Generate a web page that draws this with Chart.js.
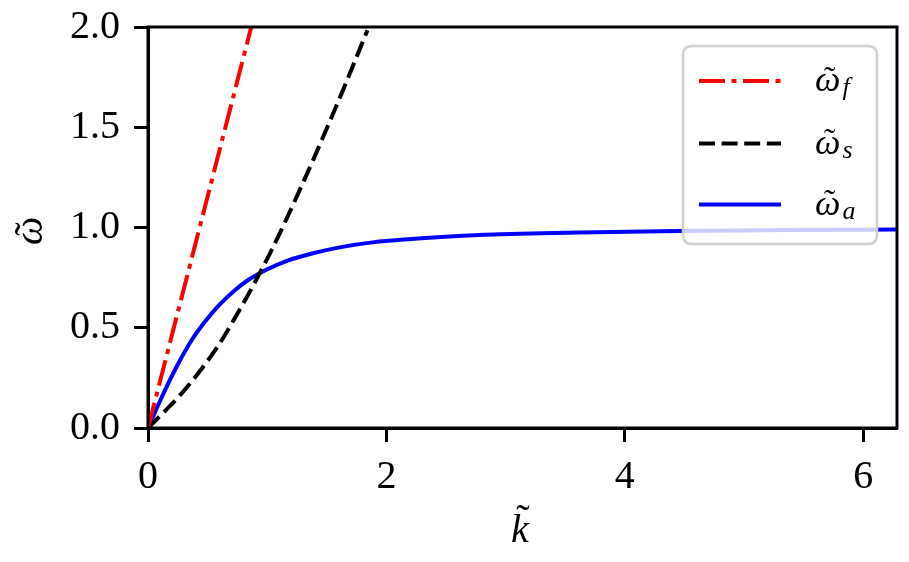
<!DOCTYPE html>
<html>
<head>
<meta charset="utf-8">
<script src="https://cdn.jsdelivr.net/npm/chart.js@4/dist/chart.umd.min.js"></script>
<style>
  html, body { margin: 0; padding: 0; background: #ffffff; }
  canvas { display: block; }
</style>
</head>
<body>
<canvas id="c" width="909" height="562"></canvas>
<script>
// ---- data ----
const xTicks = [0, 2, 4, 6];
const yTicks = [0, 0.5, 1.0, 1.5, 2.0];

const xTitle = 'k';      // drawn with a tilde: k̃
const yTitle = '\u03C9'; // drawn with a tilde: ω̃
const seriesNames = ['f', 's', 'a'];

const fastK = [0, 0.866];
const fastW = [0, 2.0];

const slowK = [0, 0.126, 0.279, 0.447, 0.592, 0.74, 0.859, 0.93, 1.018, 1.144, 1.395, 1.632, 1.841];
const slowW = [0, 0.075, 0.17, 0.293, 0.413, 0.56, 0.685, 0.765, 0.865, 1.02, 1.35, 1.68, 1.984];

const alfK = [0, 0.079, 0.146, 0.251, 0.363, 0.474, 0.600, 0.726, 0.837, 0.93, 0.977, 1.172, 1.367, 1.618, 1.897, 2.148, 2.776, 3.612, 4.449, 5.286, 6.283];
const alfW = [0, 0.106, 0.193, 0.318, 0.435, 0.527, 0.615, 0.686, 0.737, 0.769, 0.785, 0.835, 0.869, 0.902, 0.927, 0.940, 0.963, 0.975, 0.983, 0.987, 0.990];

function pts(xs, ys) { return xs.map((x, i) => ({ x: x, y: ys[i] })); }

const SERIF = "'Liberation Serif', 'DejaVu Serif', serif";
const FS = 40;

// draw a tilde centred at (cx, cy)
function tilde(ctx, cx, cy, size) {
  ctx.save();
  ctx.font = size + 'px ' + SERIF;
  ctx.textAlign = 'center';
  ctx.textBaseline = 'alphabetic';
  const m = ctx.measureText('\u02DC');
  const base = cy + (m.actualBoundingBoxAscent - m.actualBoundingBoxDescent) / 2;
  ctx.fillText('\u02DC', cx, base);
  ctx.restore();
}

const frameAndLegend = {
  id: 'frameAndLegend',
  afterDatasetsDraw(chart) {
    const ctx = chart.ctx;
    const a = chart.chartArea;
    ctx.save();
    ctx.strokeStyle = '#000';
    ctx.lineWidth = 3;
    ctx.setLineDash([]);
    ctx.strokeRect(a.left, a.top, a.right - a.left, a.bottom - a.top);

    // axis titles with tildes
    ctx.fillStyle = '#000';
    ctx.font = 'italic ' + FS + 'px ' + SERIF;
    ctx.textAlign = 'center';
    ctx.textBaseline = 'alphabetic';
    ctx.fillText(xTitle, 520, 542);
    tilde(ctx, 523, 507, 40);

    ctx.save();
    ctx.translate(42, 231);
    ctx.rotate(-Math.PI / 2);
    ctx.font = 'italic ' + FS + 'px ' + SERIF;
    ctx.textAlign = 'center';
    ctx.fillText(yTitle, 0, 0);
    tilde(ctx, 2, -25, 40);
    ctx.restore();

    // legend box
    const bx = 683, by = 46, bw = 194, bh = 198, r = 9;
    ctx.beginPath();
    ctx.moveTo(bx + r, by);
    ctx.lineTo(bx + bw - r, by);
    ctx.quadraticCurveTo(bx + bw, by, bx + bw, by + r);
    ctx.lineTo(bx + bw, by + bh - r);
    ctx.quadraticCurveTo(bx + bw, by + bh, bx + bw - r, by + bh);
    ctx.lineTo(bx + r, by + bh);
    ctx.quadraticCurveTo(bx, by + bh, bx, by + bh - r);
    ctx.lineTo(bx, by + r);
    ctx.quadraticCurveTo(bx, by, bx + r, by);
    ctx.closePath();
    ctx.fillStyle = 'rgba(255,255,255,0.8)';
    ctx.fill();
    ctx.strokeStyle = '#d0d0d0';
    ctx.lineWidth = 2.5;
    ctx.stroke();

    const rows = [81, 143.5, 204.5];
    chart.data.datasets.forEach((ds, i) => {
      const y = rows[i];
      ctx.beginPath();
      ctx.strokeStyle = ds.borderColor;
      ctx.lineWidth = ds.borderWidth;
      ctx.lineCap = 'butt';
      ctx.setLineDash(ds.borderDash || []);
      ctx.moveTo(699, y);
      ctx.lineTo(781, y);
      ctx.stroke();
      ctx.setLineDash([]);
      ctx.fillStyle = '#000';
      ctx.textAlign = 'left';
      ctx.textBaseline = 'alphabetic';
      ctx.font = 'italic 36px ' + SERIF;
      ctx.fillText('\u03C9', 815, y + 10);
      const w = ctx.measureText('\u03C9').width;
      tilde(ctx, 815 + w / 2 + 2, y - 13, 34);
      ctx.font = 'italic 26px ' + SERIF;
      ctx.fillText(seriesNames[i], 815 + w + 2, y + 14);
    });
    ctx.restore();
  }
};

new Chart(document.getElementById('c'), {
  type: 'line',
  data: {
    datasets: [
      { label: 'f', data: pts(fastK, fastW), borderColor: '#ff0000', borderWidth: 4,
        borderDash: [26, 6.5, 5, 6.5], pointRadius: 0, tension: 0 },
      { label: 's', data: pts(slowK, slowW), borderColor: '#000000', borderWidth: 4,
        borderDash: [16, 6.6], pointRadius: 0, cubicInterpolationMode: 'monotone' },
      { label: 'a', data: pts(alfK, alfW), borderColor: '#0000ff', borderWidth: 4,
        pointRadius: 0, cubicInterpolationMode: 'monotone' }
    ]
  },
  options: {
    responsive: false,
    devicePixelRatio: 1,
    animation: false,
    layout: { padding: { top: 27, right: 12, left: 0, bottom: 0 } },
    plugins: { legend: { display: false }, tooltip: { enabled: false } },
    scales: {
      x: {
        type: 'linear', min: 0, max: 6.283,
        afterBuildTicks(s) { s.ticks = xTicks.map(v => ({ value: v })); },
        afterFit(s) { s.height = 134; s.paddingLeft = 0; s.paddingRight = 0; },
        grid: { display: true, drawOnChartArea: false, drawTicks: true, tickLength: 14,
                tickWidth: 3, tickColor: '#000' },
        border: { display: true, color: '#000', width: 3 },
        ticks: { color: '#000', font: { family: SERIF, size: FS }, padding: 11,
                 maxRotation: 0, callback: v => String(v) },
        title: { display: false }
      },
      y: {
        type: 'linear', min: 0, max: 2,
        afterBuildTicks(s) { s.ticks = yTicks.map(v => ({ value: v })); },
        afterFit(s) { s.width = 148; s.paddingTop = 0; s.paddingBottom = 0; },
        grid: { display: true, drawOnChartArea: false, drawTicks: true, tickLength: 14,
                tickWidth: 3, tickColor: '#000' },
        border: { display: true, color: '#000', width: 3 },
        ticks: { color: '#000', font: { family: SERIF, size: FS }, padding: 14,
                 callback: v => Number(v).toFixed(1) },
        title: { display: false }
      }
    }
  },
  plugins: [frameAndLegend]
});
</script>
</body>
</html>
